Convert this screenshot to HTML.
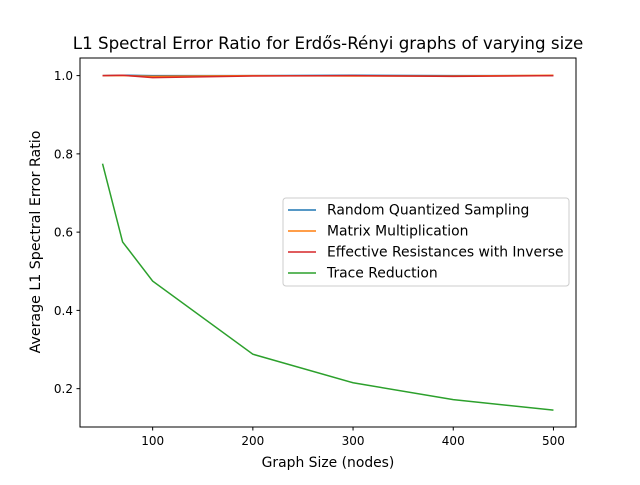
<!DOCTYPE html>
<html><head><meta charset="utf-8"><style>
body{margin:0;background:#fff;font-family:"Liberation Sans","DejaVu Sans",sans-serif;}
svg text{font-family:"DejaVu Sans","Liberation Sans",sans-serif;}
</style></head><body>
<svg id="chart" width="640" height="480">
<rect width="640" height="480" fill="#fff"/>
<text x="328" y="49" font-size="16.7" text-anchor="middle">L1 Spectral Error Ratio for Erdős-Rényi graphs of varying size</text>
<g id="plot"></g>
<rect x="80" y="58" width="496" height="369" fill="none" stroke="#000" stroke-width="1"/>
<text x="328" y="467" font-size="13.9" text-anchor="middle">Graph Size (nodes)</text>
<text transform="translate(40,242) rotate(-90)" font-size="14.2" text-anchor="middle">Average L1 Spectral Error Ratio</text>
<g id="legend">
<rect x="283" y="198" width="286" height="88" rx="3" fill="#fff" fill-opacity="0.8" stroke="#ccc"/>
</g>
</svg>
<script>
const sizes=[50,70,100,200,300,400,500];
const randomQuantized=[1.0,1.001,1.0,1.0,1.001,1.0,1.0];
const matrixMult=[1.0,1.0,0.998,1.0,0.999,0.999,1.001];
const effResist=[1.0,1.001,0.995,0.999,1.0,0.998,1.0];
const traceRed=[0.775,0.575,0.475,0.288,0.215,0.172,0.145];
const xTicks=[100,200,300,400,500];
const yTicks=[0.2,0.4,0.6,0.8,1.0];
const seriesNames=["Random Quantized Sampling","Matrix Multiplication","Effective Resistances with Inverse","Trace Reduction"];
const NS="http://www.w3.org/2000/svg";
const X=v=>80+(v-27.5)/495*496;
const Y=v=>427-(v-0.102)/(1.045-0.102)*369;
const plot=document.getElementById('plot');
function mk(t,a,p){const e=document.createElementNS(NS,t);for(const k in a)e.setAttribute(k,a[k]);(p||plot).appendChild(e);return e;}
xTicks.forEach(v=>{
 const l=mk('line',{x1:X(v),x2:X(v),y1:427,y2:430.5,stroke:'#000'});
 
 
 const t=mk('text',{x:X(v),y:445,'font-size':12,'text-anchor':'middle'});t.textContent=v;
 
 
});
yTicks.forEach(v=>{
 const l=mk('line',{x1:76.5,x2:80,y1:Y(v),y2:Y(v),stroke:'#000'});
 
 
 const t=mk('text',{x:73,y:Y(v)+4.5,'font-size':12,'text-anchor':'end'});t.textContent=v.toFixed(1);
 
 
});
const series=[randomQuantized,matrixMult,effResist,traceRed];
const colors=['#1f77b4','#ff7f0e','#d62728','#2ca02c'];
series.forEach((s,i)=>{
 const p=mk('polyline',{points:s.map((v,j)=>X(sizes[j])+','+Y(v)).join(' '),fill:'none',stroke:colors[i],'stroke-width':1.5});
 
 
});
const lg=document.getElementById('legend');
seriesNames.forEach((n,i)=>{
 const y=210+i*21;
 mk('line',{x1:288,x2:316,y1:y,y2:y,stroke:colors[i],'stroke-width':1.5},lg);
 const t=mk('text',{x:327,y:y+4.5,'font-size':13.9},lg);t.textContent=n;
 
 
});
</script>
</body></html>
